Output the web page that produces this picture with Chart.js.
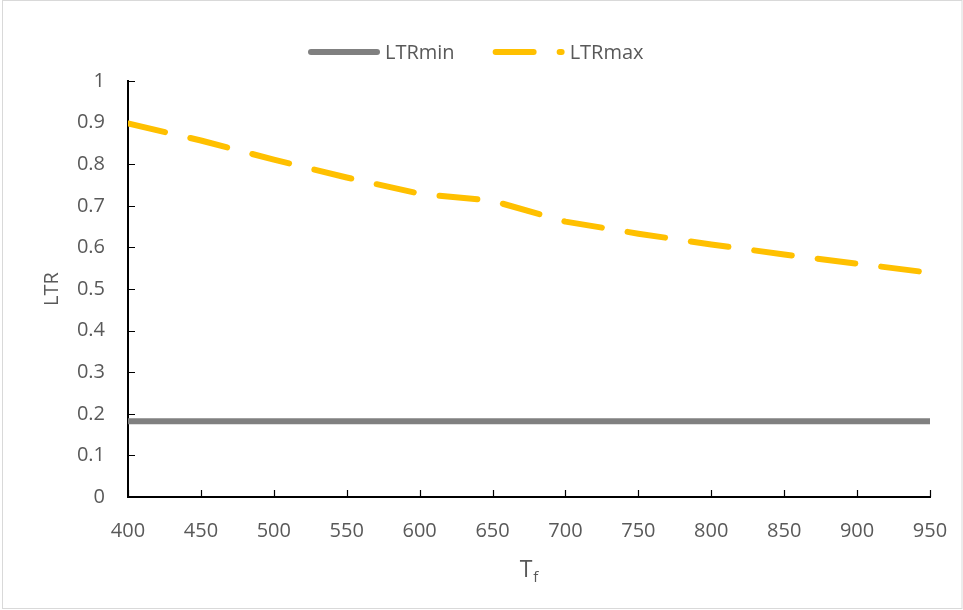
<!DOCTYPE html>
<html>
<head>
<meta charset="utf-8">
<script src="https://cdn.jsdelivr.net/npm/chart.js@4.4.1/dist/chart.umd.min.js"></script>
<style>
  html, body { margin: 0; padding: 0; background: #fff; }
  #wrap { width: 963px; height: 610px; }
</style>
</head>
<body>
<div id="wrap"><canvas id="mychart" width="963" height="610"></canvas></div>
<script>
// -------- data --------
const tfValues = [400, 450, 500, 550, 600, 650, 700, 750, 800, 850, 900, 950];
const ltrMin = [0.182, 0.182, 0.182, 0.182, 0.182, 0.182, 0.182, 0.182, 0.182, 0.182, 0.182, 0.182];
const ltrMax = [0.898, 0.857, 0.811, 0.768, 0.729, 0.712, 0.662, 0.633, 0.607, 0.583, 0.561, 0.539];
const seriesNames = ['LTRmin', 'LTRmax'];
const yTitle = 'LTR';
const xTitleMain = 'T';
const xTitleSub = 'f';

const FONT = '"Open Sans", "Liberation Sans", sans-serif';
const TEXT = '#595959';

function toPoints(ys) {
  return tfValues.map((x, i) => ({ x: x, y: ys[i] }));
}

// white background + light frame
const framePlugin = {
  id: 'frame',
  beforeDraw(chart) {
    const ctx = chart.ctx;
    ctx.save();
    ctx.fillStyle = '#fff';
    ctx.fillRect(0, 0, chart.width, chart.height);
    ctx.strokeStyle = '#d9d9d9';
    ctx.lineWidth = 1;
    ctx.strokeRect(2.5, 0.5, chart.width - 3.5, chart.height - 2);
    ctx.restore();
  }
};

// tick marks pointing into the plot, like the original
const innerTicks = {
  id: 'innerTicks',
  beforeDatasetsDraw(chart) {
    const ctx = chart.ctx;
    const area = chart.chartArea;
    const xs = chart.scales.x, ys = chart.scales.y;
    ctx.save();
    ctx.strokeStyle = '#000';
    ctx.lineWidth = 1.2;
    ctx.beginPath();
    ys.ticks.forEach((t, i) => {
      const py = Math.round(ys.getPixelForTick(i)) + 0.5;
      ctx.moveTo(area.left, py);
      ctx.lineTo(area.left + 7, py);
    });
    xs.ticks.forEach((t, i) => {
      const px = Math.round(xs.getPixelForTick(i)) + 0.5;
      ctx.moveTo(px, area.bottom);
      ctx.lineTo(px, area.bottom - 7);
    });
    ctx.stroke();
    ctx.restore();
  }
};

// legend on top and the x title with its subscript
const legendAndTitle = {
  id: 'legendAndTitle',
  afterDraw(chart) {
    const ctx = chart.ctx;
    ctx.save();
    ctx.font = '20px ' + FONT;
    ctx.textBaseline = 'middle';
    const sample = 72, gapText = 5, gapItem = 38;
    const ds = chart.data.datasets;
    let total = 0;
    ds.forEach((d, i) => {
      total += sample + gapText + ctx.measureText(d.label).width;
      if (i < ds.length - 1) total += gapItem;
    });
    let x = Math.round(chart.width / 2 - 6 - total / 2);
    const y = 52;
    ds.forEach((d) => {
      ctx.strokeStyle = d.borderColor;
      ctx.lineWidth = d.borderWidth;
      ctx.lineCap = 'round';
      ctx.setLineDash(d.borderDash || []);
      ctx.beginPath();
      ctx.moveTo(x + 3, y);
      ctx.lineTo(x + sample - 3, y);
      ctx.stroke();
      ctx.setLineDash([]);
      ctx.fillStyle = TEXT;
      ctx.textAlign = 'left';
      ctx.fillText(d.label, x + sample + gapText, y + 1);
      x += sample + gapText + ctx.measureText(d.label).width + gapItem;
    });

    // x axis title: T with subscript f
    const area = chart.chartArea;
    ctx.font = '23px ' + FONT;
    const wT = ctx.measureText(xTitleMain).width;
    ctx.font = '15px ' + FONT;
    const wF = ctx.measureText(xTitleSub).width;
    const cx = (area.left + area.right) / 2;
    const tx = cx - (wT + 1 + wF) / 2;
    ctx.textBaseline = 'alphabetic';
    ctx.fillStyle = TEXT;
    ctx.font = '23px ' + FONT;
    ctx.fillText(xTitleMain, tx, 577);
    ctx.font = '15px ' + FONT;
    ctx.fillText(xTitleSub, tx + wT + 1, 582);
    ctx.restore();
  }
};

const data = {
  datasets: [
    {
      label: seriesNames[0],
      data: toPoints(ltrMin),
      borderColor: '#808080',
      backgroundColor: '#808080',
      borderWidth: 6,
      borderCapStyle: 'round',
      pointRadius: 0,
      tension: 0
    },
    {
      label: seriesNames[1],
      data: toPoints(ltrMax),
      borderColor: '#FFC000',
      backgroundColor: '#FFC000',
      borderWidth: 6,
      borderDash: [38, 26],
      borderCapStyle: 'round',
      borderJoinStyle: 'round',
      pointRadius: 0,
      tension: 0
    }
  ]
};

const config = {
  type: 'line',
  data: data,
  plugins: [framePlugin, innerTicks, legendAndTitle],
  options: {
    responsive: false,
    animation: false,
    layout: {
      padding: { top: 81, right: 33, bottom: 0, left: 0 }
    },
    plugins: {
      legend: { display: false },
      tooltip: { enabled: false }
    },
    scales: {
      x: {
        type: 'linear',
        min: 400,
        max: 950,
        afterFit(scale) {
          scale.height = 113;
          scale.paddingLeft = 0;
          scale.paddingRight = 0;
        },
        border: { display: true, color: '#000', width: 2 },
        grid: { display: false, drawTicks: false },
        ticks: {
          stepSize: 50,
          padding: 22,
          color: TEXT,
          font: { family: FONT, size: 20 }
        }
      },
      y: {
        min: 0,
        max: 1,
        afterFit(scale) {
          scale.width = 128;
          scale.paddingTop = 0;
          scale.paddingBottom = 0;
        },
        border: { display: true, color: '#000', width: 2 },
        grid: { display: false, drawTicks: false },
        ticks: {
          stepSize: 0.1,
          padding: 23,
          color: TEXT,
          font: { family: FONT, size: 20 },
          callback: (v) => String(Number(v.toFixed(1)))
        },
        title: {
          display: true,
          text: yTitle,
          color: TEXT,
          font: { family: FONT, size: 20 },
          padding: { top: 40, bottom: 0 }
        }
      }
    }
  }
};

const mychart = document.getElementById('mychart');
var chart = new Chart(mychart, config);
</script>
</body>
</html>
